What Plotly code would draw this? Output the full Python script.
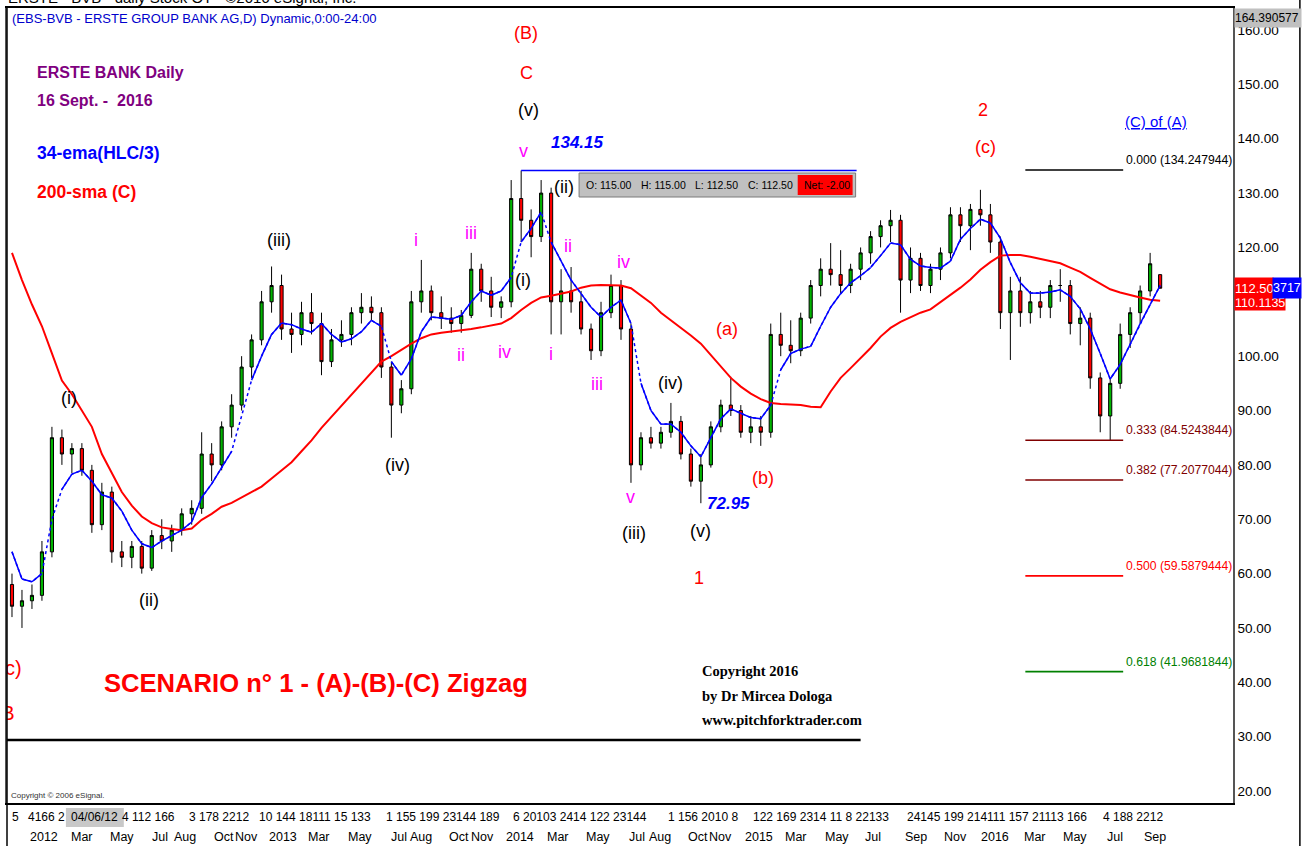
import numpy as np
import plotly.graph_objects as go

# ---------------- DATA ----------------
# one candle per ~10 trading days, early 2012 .. 16 Sept 2016
bars = list(range(116))

open_ = [58, 54, 55, 56, 64, 85, 82, 83, 79, 69,
         75, 64, 63, 65, 61, 67, 66, 68, 71, 72,
         82, 80, 87, 91, 98, 103, 110, 113, 105, 104,
         108, 106, 99, 103, 104, 108, 109, 108, 98, 91,
         94, 110, 112, 108, 107, 106, 107.5, 116, 112, 109,
         110, 129, 125, 122, 130, 110, 112, 110, 105, 101,
         108, 113, 105, 80, 85, 84, 86, 88, 82, 77,
         80, 87, 91, 90, 86, 87, 86, 104, 102, 101,
         107, 113, 116, 115, 113, 116, 119, 122, 124, 125,
         114, 118, 113, 116, 119, 126, 124, 127, 126, 121,
         108, 112, 108, 110, 109, 113, 113, 106, 107, 96,
         89, 95, 104, 108, 112, 115]

high = [60, 57, 58, 66, 87, 86.5, 84, 84, 80, 76.7,
        76, 66, 66, 66, 68, 70, 69, 72, 73.5, 86,
        84, 88, 93, 100, 104, 112, 116.5, 115, 108, 110,
        111.6, 108, 105, 106.6, 109, 111.6, 111, 109, 99, 95.6,
        112, 117.7, 113, 111, 109, 108.5, 119, 117, 114.6, 111,
        132.4, 134.15, 127, 132.4, 131, 116, 116.4, 112, 106, 110,
        115, 114, 106, 86, 87, 87, 91.4, 89, 83, 82,
        88, 92, 96.2, 91, 89, 89, 106, 108, 106.6, 108,
        114, 118, 120.8, 119.5, 117, 120, 123, 125, 126.9, 126,
        120, 119, 117, 120, 127.4, 127.4, 128, 130.6, 128, 122,
        114.6, 114.6, 112, 112, 114, 116, 114, 109, 108, 97,
        96, 106, 109, 113, 119, 115]

low = [52, 50, 53.5, 55, 63, 80, 78.5, 78, 67.5, 68,
       62, 61.2, 61, 60, 60.5, 64.5, 64, 67, 69, 71,
       77, 79, 85, 90, 96, 102, 108, 103, 100.6, 102,
       104, 96.5, 98, 101.7, 102, 106, 106.6, 96, 85, 89.5,
       93, 108, 106.6, 105, 104.3, 104.3, 107, 110, 107.2, 107,
       109, 121, 118.2, 121, 104, 104, 108, 104, 99.3, 100,
       107, 103, 76.7, 79, 83, 83, 85, 81, 76, 72.95,
       79.5, 86, 89, 85, 84, 83.5, 85, 100, 98.7, 100,
       106, 111, 113, 111.6, 111.6, 114, 117, 120, 121, 108,
       111.6, 112, 111.6, 114, 118, 121, 119.5, 124, 119, 105,
       99.3, 105.4, 106, 107, 107, 110, 104, 102, 94, 86,
       84.5, 94, 101.5, 106, 111, 112.5]

close = [54, 55, 56, 64, 85, 82, 83, 79, 69, 75,
         64, 63, 65, 61, 67, 66, 68, 71, 72, 82,
         80, 87, 91, 98, 103, 110, 113, 105, 104, 108,
         106, 99, 103, 104, 108, 109, 108, 98, 91, 94,
         110, 112, 108, 107, 106, 107.5, 116, 112, 109, 110,
         129, 125, 122, 130, 110, 112, 110, 105, 101, 108,
         113, 105, 80, 85, 84, 86, 88, 82, 77, 80,
         87, 91, 90, 86, 87, 86, 104, 102, 101, 107,
         113, 116, 115, 113, 116, 119, 122, 124, 125, 114,
         118, 113, 116, 119, 126, 124, 127, 126, 121, 108,
         112, 108, 110, 109, 113, 113, 106, 107, 96, 89,
         95, 104, 108, 112, 117, 112.5]

ema34 = [64, 59, 58.5, 60, 70, 75.5, 78.3, 79, 77, 74.5,
         73.9, 71.5, 68, 65.5, 64.8, 66, 67, 68, 69.5, 74,
         76.5, 79.5, 82.5, 89, 95.6, 100, 104, 106.1, 105.8, 105,
         104.4, 106, 104, 102.6, 103.2, 104.5, 106.6, 105.5, 99, 96.5,
         99.5, 104.5, 107.2, 107, 106.8, 107.5, 110, 112, 111.2, 112,
         114.5, 121, 123.5, 126.5, 121, 117.5, 114, 111.5, 109, 107.2,
         109, 110.3, 106, 95, 90, 87.5, 87.5, 86, 83.5, 81.5,
         85, 88.5, 90.3, 89.5, 88.7, 88.5, 91, 97.5, 100.5, 101.3,
         101.8, 105.5, 109, 111.5, 113.5, 114.8, 116.3, 118.5, 120.8, 120.5,
         117.8, 116.6, 116.3, 116.2, 117.5, 121.5, 123.5, 125.2, 124.5, 121.7,
         117.2, 113.5, 111.6, 111.6, 111.8, 112.2, 111, 108.7, 105, 100.5,
         95.8, 98.5, 102.2, 106, 109.5, 113]

sma200 = [119, 114, 109.5, 105.5, 100.5, 95.5, 93, 90, 87, 82,
          78.5, 75, 72.5, 70.5, 69.3, 68.5, 68.2, 68, 68.3, 69.9,
          71, 72.3, 73, 74, 75, 76, 77.5, 79, 80.5, 82.5,
          84.5, 86.8, 88.8, 90.8, 93, 95, 97, 99, 100, 101.2,
          102.3, 103.3, 104, 104.3, 104.5, 104.8, 105, 105.3, 105.6, 106,
          107, 108.5, 109.8, 110.8, 111.1, 111.5, 111.9, 112.6, 113, 113.1,
          113.1, 113, 112.5, 111.2, 109.8, 108, 106.6, 105.3, 103.8, 102.3,
          100.2, 98, 96, 94.4, 93.1, 92.1, 91.4, 91.2, 91.1, 91,
          90.7, 90.6, 93.5, 96, 97.8, 99.6, 101.5, 103.6, 105.2, 106.3,
          107.2, 108, 108.6, 109.9, 111.2, 112.6, 114.1, 115.9, 117.3, 118.5,
          118.6, 118.6, 118.3, 117.9, 117.5, 117.1, 116.3, 115.5, 114.4, 113.3,
          112.3, 111.7, 111.2, 110.8, 110.4, 110.2]

fib_ratio = [0.000, 0.333, 0.382, 0.500, 0.618]
fib_level = [134.247944, 84.5243844, 77.2077044, 59.5879444, 41.9681844]

high_B = 134.15
low_1 = 72.95
last_ohlc = [115.00, 115.00, 112.50, 112.50]
last_net = -2.00
scale_top = "164.390577"
sma_last_label = "110.1135"
ema_last_label = "3717"
price_ticks = [20, 30, 40, 50, 60, 70, 80, 90, 100, 110, 120, 130, 140, 150, 160]

day_labels = ["5", "4166 2", "04/06/12", "4 112 166", "3 178 2212", "10 144 18111 15 133",
              "1 155 199 23144 189", "6 20103 2414 122 23144", "1 156 2010 8",
              "122 169 2314 11 8 22133", "24145 199 214111 157 21113 166", "4 188 2212"]
month_labels = ["2012", "Mar", "May", "Jul", "Aug", "Oct", "Nov", "2013", "Mar", "May", "Jul", "Aug",
                "Oct", "Nov", "2014", "Mar", "May", "Jul", "Aug", "Oct", "Nov", "2015", "Mar", "May",
                "Jul", "Sep", "Nov", "2016", "Mar", "May", "Jul", "Sep"]

# ---------------- LAYOUT / STYLE ----------------
W, H = 1313, 846
L_PX, R_PX, T_PX, B_PX = 5, 1233, 8, 803
X0, X1 = -0.5, 122.3
Y0, Y1 = 17.8, 164.05

def sx(px):  # screen x -> bar axis
    return X0 + (px - L_PX) / (R_PX - L_PX) * (X1 - X0)

def sy(py):  # screen y -> price axis
    return Y1 - (py - T_PX) / (B_PX - T_PX) * (Y1 - Y0)

def ppx(px):
    return (px - L_PX) / (R_PX - L_PX)

def ppy(py):
    return (B_PX - py) / (B_PX - T_PX)

SANS = "Liberation Sans Narrow, Arial Narrow, Liberation Sans, Arial, sans-serif"
SERIF = "Liberation Serif, Times New Roman, serif"
BLK, MAG, RED, BLUE, PURP = "#000000", "#ff00ff", "#ff0000", "#0000ff", "#800080"

day_px = [14, 45, 93, 147, 217, 314, 442, 579, 702, 820, 997, 1133]
month_px = [42, 80, 120, 158, 183, 222, 245, 281, 318, 359, 398, 420, 458, 481, 519, 557, 597,
            636, 659, 697, 720, 758, 795, 836, 872, 915, 955, 995, 1035, 1075, 1115, 1155]

wave_labels = [
    ("(i)", 67, 398, BLK), ("(ii)", 147, 600, BLK), ("(iii)", 277, 240, BLK), ("(iv)", 396, 465, BLK),
    ("(i)", 522, 280, BLK), ("(v)", 527, 110, BLK), ("(ii)", 563, 187, BLK), ("(iii)", 633, 533, BLK),
    ("(iv)", 670, 383, BLK), ("(v)", 700, 531, BLK),
    ("i", 415, 240, MAG), ("ii", 460, 355, MAG), ("iii", 470, 233, MAG), ("iv", 503, 352, MAG),
    ("v", 522, 151, MAG), ("i", 550, 354, MAG), ("ii", 567, 246, MAG), ("iii", 596, 384, MAG),
    ("iv", 623, 262, MAG), ("v", 630, 497, MAG),
    ("(B)", 525, 33, RED), ("C", 525, 73, RED), ("1", 698, 578, RED), ("(a)", 726, 329, RED),
    ("(b)", 762, 478, RED), ("2", 983, 110, RED), ("(c)", 985, 147, RED),
]
fib_colors = ["#000000", "#800000", "#800000", "#ff0000", "#008000"]

fig = go.Figure()

fig.add_trace(go.Candlestick(
    x=bars, open=open_, high=high, low=low, close=close,
    increasing=dict(line=dict(color="black", width=1), fillcolor="#00b400"),
    decreasing=dict(line=dict(color="black", width=1), fillcolor="#ff0000"),
    whiskerwidth=0, showlegend=False, hoverinfo="skip"))

fig.add_trace(go.Scatter(x=bars, y=sma200, mode="lines", line=dict(color=RED, width=2),
                         showlegend=False, hoverinfo="skip"))

# EMA: dotted where it moves steeply, solid elsewhere
ema = np.array(ema34, float)
steep = np.abs(np.diff(ema)) > 5.2
seg_x, seg_y = [], []
for i in range(len(ema) - 1):
    if not steep[i]:
        seg_x += [bars[i], bars[i + 1], None]
        seg_y += [ema34[i], ema34[i + 1], None]
fig.add_trace(go.Scatter(x=bars, y=ema34, mode="lines", line=dict(color=BLUE, width=1.5, dash="dot"),
                         showlegend=False, hoverinfo="skip"))
fig.add_trace(go.Scatter(x=seg_x, y=seg_y, mode="lines", line=dict(color=BLUE, width=1.5),
                         showlegend=False, hoverinfo="skip"))

# labels cut by the left edge of the chart
fig.add_trace(go.Scatter(x=[sx(8), sx(6)], y=[sy(670), sy(715)], mode="text", text=["(c)", "B"],
                         textfont=dict(color=RED, size=20, family=SANS), cliponaxis=True,
                         showlegend=False, hoverinfo="skip"))

shapes = []
ann = []

def pann(text, px, py, xanchor="center", **kw):
    ann.append(dict(x=ppx(px), y=ppy(py), xref="paper", yref="paper", text=text, showarrow=False,
                    xanchor=xanchor, yanchor=kw.pop("yanchor", "middle"), **kw))

# peak line (B) = 134.15
shapes.append(dict(type="line", xref="x", yref="y", x0=bars[high.index(high_B)], x1=sx(856),
                   y0=high_B, y1=high_B, line=dict(color=BLUE, width=1.6)))
ann.append(dict(x=sx(576), y=sy(142), xref="x", yref="y", text=f"<b><i>{high_B:.2f}</i></b>",
                showarrow=False, font=dict(color=BLUE, size=17, family=SANS)))
ann.append(dict(x=sx(728), y=sy(503), xref="x", yref="y", text=f"<b><i>{low_1:.2f}</i></b>",
                showarrow=False, font=dict(color=BLUE, size=17, family=SANS)))

# fibonacci levels
for r, lvl, col in zip(fib_ratio, fib_level, fib_colors):
    shapes.append(dict(type="line", xref="x", yref="y", x0=sx(1025), x1=sx(1123), y0=lvl, y1=lvl,
                       line=dict(color=col, width=1.6)))
    ann.append(dict(x=sx(1124), y=lvl, xref="x", yref="y", xanchor="left", yanchor="bottom",
                    text=f"{r:.3f} ({lvl})", showarrow=False, yshift=1,
                    font=dict(color=col, size=12.2, family=SANS)))
ann.append(dict(x=sx(1156), y=sy(121), xref="x", yref="y", text="<u>(C) of (A)</u>", showarrow=False,
                font=dict(color=BLUE, size=15, family=SANS)))

# wave labels
for t, px, py, col in wave_labels:
    ann.append(dict(x=sx(px), y=sy(py), xref="x", yref="y", text=t, showarrow=False,
                    xanchor="center", yanchor="middle",
                    font=dict(color=col, size=18, family=SANS)))

# headers
pann("ERSTE - BVB - daily Stock OT - ©2016 eSignal, Inc.", 4, -3, xanchor="left",
     font=dict(color=BLK, size=15, family=SANS))
pann("(EBS-BVB - ERSTE GROUP BANK AG,D) Dynamic,0:00-24:00", 8, 18, xanchor="left",
     font=dict(color="#0000cc", size=13, family=SANS))
for t, py, col, fs in [("ERSTE BANK Daily", 73, PURP, 16), ("16 Sept. -\u00a0 2016", 101, PURP, 16),
                       ("34-ema(HLC/3)", 153, BLUE, 17.5), ("200-sma (C)", 192, RED, 17.5)]:
    pann(f"<b>{t}</b>", 33, py, xanchor="left", font=dict(color=col, size=fs, family=SANS))
pann("<b>SCENARIO n° 1 - (A)-(B)-(C) Zigzag</b>", 315, 683, font=dict(color=RED, size=25.6, family=SANS))
for t, py in [("Copyright 2016", 671), ("by Dr Mircea Dologa", 696), ("www.pitchforktrader.com", 720)]:
    pann(f"<b>{t}</b>", 699, py, xanchor="left", font=dict(color=BLK, size=14.5, family=SERIF))
pann("Copyright © 2006 eSignal.", 7, 795, xanchor="left", font=dict(color="#333333", size=8, family=SANS))

# bottom separator line
shapes.append(dict(type="line", xref="paper", yref="paper", x0=0, x1=ppx(860), y0=ppy(740), y1=ppy(740),
                   line=dict(color=BLK, width=2.5)))

# last-bar info box
shapes.append(dict(type="rect", xref="paper", yref="paper", x0=ppx(578), x1=ppx(855), y0=ppy(197), y1=ppy(173),
                   fillcolor="#c0c0c0", line=dict(color="#7a7a7a", width=1)))
shapes.append(dict(type="rect", xref="paper", yref="paper", x0=ppx(797), x1=ppx(852), y0=ppy(195), y1=ppy(175),
                   fillcolor="#ff0000", line=dict(width=0)))
for t, v, px in zip(["O", "H", "L", "C"], last_ohlc, [583, 638, 692, 745]):
    pann(f"{t}: {v:.2f}", px, 185, xanchor="left", font=dict(color=BLK, size=10.5, family=SANS))
pann(f"Net: {last_net:.2f}", 801, 185, xanchor="left", font=dict(color=BLK, size=10.5, family=SANS))

# right price-scale boxes
pann(scale_top, 1234, 18, xanchor="left", bgcolor="#c0c0c0", width=66, height=18, borderpad=0,
     align="left", font=dict(color=BLK, size=12, family=SANS))
pann(sma_last_label, 1234, 304, xanchor="left", bgcolor="#ff0000", width=50, height=12, borderpad=0,
     valign="bottom", align="left", font=dict(color="white", size=12.5, family=SANS))
pann(f"{last_ohlc[3]:.2f}", 1234, 288, xanchor="left", bgcolor="#ff0000", width=38, height=20, borderpad=0,
     align="left", font=dict(color="white", size=13, family=SANS))
pann(ema_last_label, 1272, 288, xanchor="left", bgcolor="#0000ff", width=28, height=20, borderpad=0,
     align="left", font=dict(color="white", size=12.5, family=SANS))

# frame lines outside the plot
shapes.append(dict(type="line", xref="paper", yref="paper", x0=ppx(1300), x1=ppx(1300), y0=ppy(846), y1=ppy(0),
                   line=dict(color=BLK, width=1.5)))
shapes.append(dict(type="line", xref="paper", yref="paper", x0=0, x1=0, y0=ppy(846), y1=1,
                   line=dict(color=BLK, width=1.5)))

# x-axis label rows
shapes.append(dict(type="rect", xref="paper", yref="paper", x0=ppx(64), x1=ppx(122), y0=ppy(827), y1=ppy(808),
                   fillcolor="#c8c8c8", line=dict(width=0)))
for t, px in zip(day_labels, day_px):
    pann(t, px, 817, font=dict(color=BLK, size=12, family=SANS))
for t, px in zip(month_labels, month_px):
    pann(t, px, 837, font=dict(color=BLK, size=12.5, family=SANS))

fig.update_layout(
    width=W, height=H, margin=dict(l=L_PX, r=W - R_PX, t=T_PX, b=H - B_PX),
    paper_bgcolor="white", plot_bgcolor="white", showlegend=False, boxgap=0.55,
    shapes=shapes, annotations=ann,
    xaxis=dict(range=[X0, X1], showticklabels=False, showgrid=False, zeroline=False, ticks="",
               showline=True, mirror=True, linecolor=BLK, linewidth=1.5, rangeslider=dict(visible=False)),
    yaxis=dict(range=[Y0, Y1], side="right", tickvals=price_ticks, ticktext=[f"{v:.2f}" for v in price_ticks],
               showgrid=False, zeroline=False, ticks="", showline=True, mirror=True,
               linecolor="#555555", linewidth=1.5,
               tickfont=dict(color=BLK, size=13.5, family=SANS)),
)

fig.write_html("out.html", config={"displayModeBar": False},
               post_script="document.body.style.margin='0px';")
